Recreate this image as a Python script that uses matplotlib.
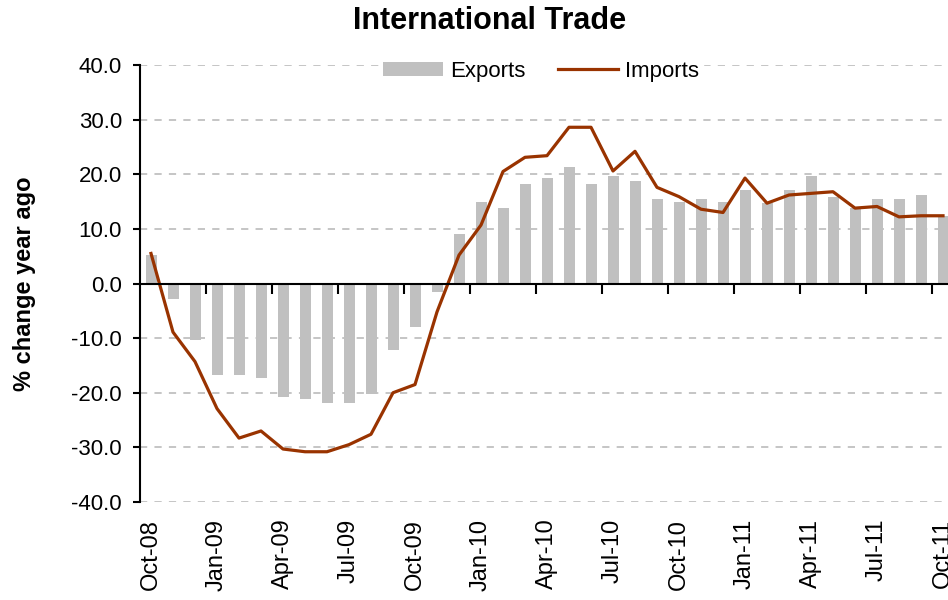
import numpy as np
import matplotlib
matplotlib.use('Agg')
import matplotlib.pyplot as plt

plt.rcParams['font.family'] = ['Liberation Sans', 'DejaVu Sans']

# monthly, Oct-08 .. Oct-11
months = ['Oct-08', 'Nov-08', 'Dec-08', 'Jan-09', 'Feb-09', 'Mar-09', 'Apr-09', 'May-09',
          'Jun-09', 'Jul-09', 'Aug-09', 'Sep-09', 'Oct-09', 'Nov-09', 'Dec-09', 'Jan-10',
          'Feb-10', 'Mar-10', 'Apr-10', 'May-10', 'Jun-10', 'Jul-10', 'Aug-10', 'Sep-10',
          'Oct-10', 'Nov-10', 'Dec-10', 'Jan-11', 'Feb-11', 'Mar-11', 'Apr-11', 'May-11',
          'Jun-11', 'Jul-11', 'Aug-11', 'Sep-11', 'Oct-11']

exports = [5.2, -2.8, -10.3, -16.8, -16.8, -17.3, -20.7, -21.1, -21.9, -21.9, -20.2, -12.1,
           -7.9, -1.5, 9.0, 15.0, 13.8, 18.3, 19.3, 21.4, 18.3, 19.7, 18.8, 15.5,
           15.0, 15.4, 15.0, 17.1, 14.8, 17.1, 19.7, 15.9, 13.8, 15.4, 15.4, 16.2, 12.3]

imports = [5.5, -8.9, -14.3, -22.9, -28.3, -27.0, -30.3, -30.8, -30.8, -29.5, -27.6, -20.0,
           -18.5, -5.2, 5.2, 10.7, 20.5, 23.1, 23.4, 28.6, 28.6, 20.6, 24.2, 17.6,
           15.9, 13.6, 13.0, 19.3, 14.7, 16.2, 16.5, 16.8, 13.8, 14.1, 12.2, 12.4, 12.4]

yticks = [-40, -30, -20, -10, 0, 10, 20, 30, 40]

x = np.arange(len(months))

fig = plt.figure(figsize=(9.48, 6), dpi=100)
ax = fig.add_axes([140/948, 1-502/600, 814/948, 437/600])

bars = ax.bar(x, exports, width=0.5, color='#c0c0c0', label='Exports', zorder=2)
line, = ax.plot(x, imports, color='#993300', lw=2.3, label='Imports', zorder=3)

ax.set_xlim(-0.5, len(months) - 0.5)
ax.set_ylim(-40, 40)
ax.set_yticks(yticks)
ax.set_yticklabels(['%.1f' % v for v in yticks], fontsize=16)
ax.yaxis.grid(True, color='#c0c0c0', lw=1.3, linestyle=(0, (4, 4)), zorder=0)
ax.set_axisbelow(True)

for s in ['top', 'right']:
    ax.spines[s].set_visible(False)
ax.spines['left'].set_linewidth(1.5)
ax.spines['bottom'].set_position(('data', 0))
ax.spines['bottom'].set_linewidth(1.5)
ax.spines['bottom'].set_zorder(4)
ax.tick_params(axis='y', direction='out', length=5, width=1.5, pad=8)
ax.set_xticks(np.arange(2.5, len(months) - 1, 3))
ax.tick_params(axis='x', direction='out', length=7, width=1.5, labelbottom=False)

# month labels along the bottom
sec = ax.secondary_xaxis('bottom')
sec.set_xticks(x[::3])
sec.set_xticklabels(months[::3], rotation=90, fontsize=17)
sec.tick_params(length=0, pad=12)
sec.spines['bottom'].set_visible(False)

fig.text(25/948, 1-284/600, '% change year ago', rotation=90, ha='center', va='center',
         fontsize=17, fontweight='bold')

fig.text(490/948, 1-21/600, 'International Trade', ha='center', va='center',
         fontsize=22, fontweight='bold')

leg = ax.legend([bars, line], ['Exports', 'Imports'], loc='center',
                bbox_to_anchor=(541/948, 1-71/600),
                bbox_transform=fig.transFigure, ncol=2, fontsize=16,
                frameon=True, fancybox=False, edgecolor='white', framealpha=1,
                handlelength=2.7, handleheight=0.6, handletextpad=0.3,
                columnspacing=1.5, borderpad=0.2)

fig.savefig('out.png', dpi=100)
